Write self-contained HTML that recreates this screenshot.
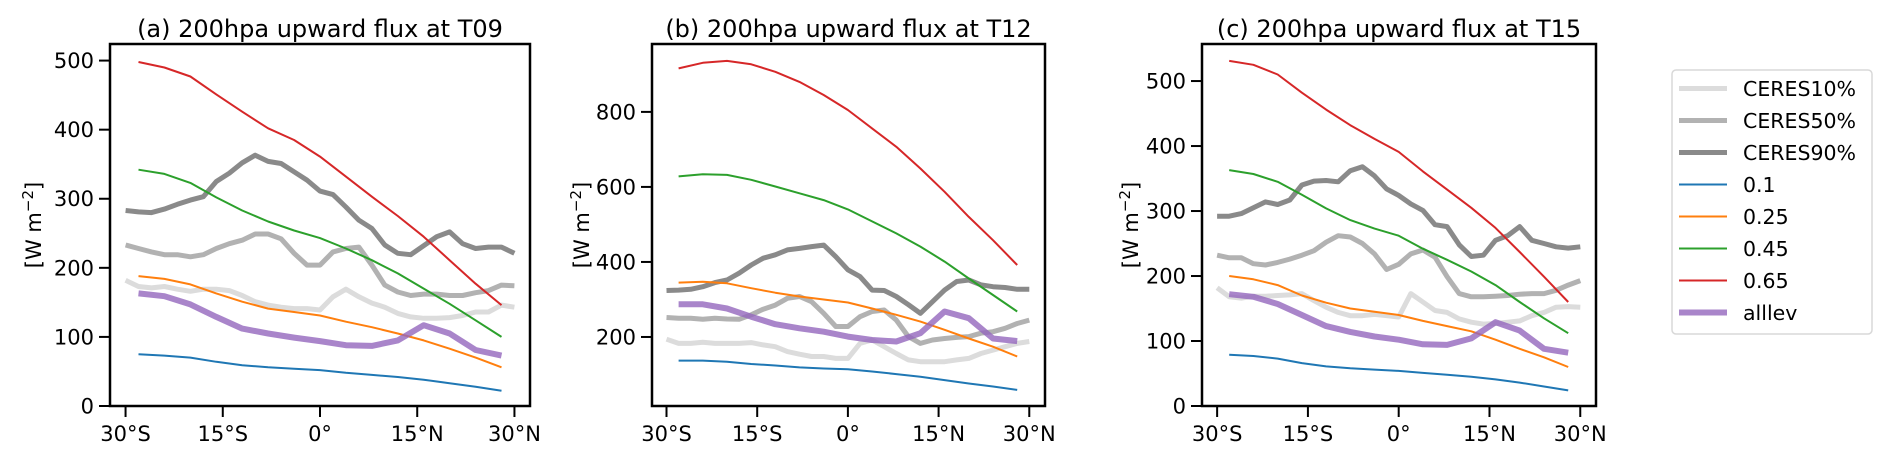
<!DOCTYPE html>
<html><head><meta charset="utf-8"><style>
html,body{margin:0;padding:0;background:#fff;}
svg{display:block;font-family:"DejaVu Sans","Liberation Sans",sans-serif;}
</style></head><body>
<svg id="fig" width="1892" height="459" viewBox="0 0 1892 459" xmlns="http://www.w3.org/2000/svg"></svg>
<script>
const latModel = [-28,-24,-20,-16,-12,-8,-4,0,4,8,12,16,20,24,28];
const latObs = [-30,-28,-26,-24,-22,-20,-18,-16,-14,-12,-10,-8,-6,-4,-2,0,2,4,6,8,10,12,14,16,18,20,22,24,26,28,30];
const xTickVals = [-30,-15,0,15,30];
const xTickLabels = ["30°S","15°S","0°","15°N","30°N"];
const panelTitles = ["(a) 200hpa upward flux at T09","(b) 200hpa upward flux at T12","(c) 200hpa upward flux at T15"];
const yTicksA = [0,100,200,300,400,500];
const yTicksB = [200,400,600,800];
const yTicksC = [0,100,200,300,400,500];
const legendLabels = ["CERES10%","CERES50%","CERES90%","0.1","0.25","0.45","0.65","alllev"];

// Panel a
const a_c10 = [182,173,171,173,169,166,169,169,167,160,151,146,143,141,141,139,158,169,158,149,143,134,129,127,127,128,131,136,136,146,143];
const a_c50 = [233,228,223,219,219,216,219,228,235,240,249,249,242,221,204,204,223,228,230,204,175,165,160,162,162,160,160,164,167,175,174];
const a_c90 = [283,281,280,285,292,298,303,325,337,352,363,354,351,339,327,311,306,288,269,257,233,221,219,232,245,252,235,228,230,230,221];
const a_01 = [75,73,70,64,59,56,54,52,48,45,42,38,33,28,22];
const a_025 = [188,184,176,163,151,141,136,131,122,114,105,95,83,70,56];
const a_045 = [342,336,323,302,283,267,254,243,228,211,192,170,148,124,100];
const a_065 = [498,490,477,451,426,402,385,361,332,303,275,245,211,177,146];
const a_all = [163,159,147,129,112,105,99,94,88,87,95,117,105,81,73];
// Panel b
const b_c10 = [194,183,183,186,183,183,183,185,179,174,161,154,148,148,143,143,183,192,174,156,139,134,134,134,139,143,156,165,174,183,188];
const b_c50 = [252,250,250,247,250,248,247,259,274,285,303,308,294,263,228,228,254,268,272,245,201,183,192,196,199,201,210,214,223,236,245];
const b_c90 = [324,325,327,334,345,352,370,392,410,419,432,436,441,445,414,379,361,325,324,308,286,263,294,325,348,352,339,334,332,327,327];
const b_01 = [137,137,134,128,124,119,116,114,108,101,94,85,76,68,59];
const b_025 = [345,347,343,330,318,308,300,292,276,259,241,219,196,174,148];
const b_045 = [628,634,632,619,601,583,565,540,508,476,441,401,356,312,268];
const b_065 = [916,931,936,927,907,880,845,805,756,707,649,587,520,458,392];
const b_all = [287,287,276,254,234,223,214,201,192,188,210,268,250,196,189];
// Panel c
const c_c10 = [182,168,166,169,169,170,171,173,162,152,144,139,139,141,139,137,173,160,147,144,134,129,126,127,129,131,139,144,152,153,152];
const c_c50 = [232,228,228,219,217,221,226,232,239,252,262,260,250,234,210,218,234,240,229,199,173,168,168,169,170,172,173,173,178,186,193];
const c_c90 = [292,292,296,305,314,310,317,340,346,347,345,362,368,354,334,324,311,301,279,276,248,230,232,255,262,276,255,250,245,243,245];
const c_01 = [79,77,73,66,61,58,56,54,51,48,45,41,36,30,24];
const c_025 = [200,195,186,170,159,150,145,140,131,123,115,102,88,75,60];
const c_045 = [363,357,345,325,304,286,273,262,242,225,207,186,160,135,112];
const c_065 = [531,525,510,482,456,432,411,391,361,333,305,274,237,199,160];
const c_all = [172,168,157,140,123,114,107,102,95,94,104,129,116,88,82];

const NS = "http://www.w3.org/2000/svg";
const svg = document.getElementById("fig");
function mk(tag, attrs, parent){const e=document.createElementNS(NS,tag);for(const k in attrs)e.setAttribute(k,attrs[k]);(parent||svg).appendChild(e);return e;}

const styles = [
  {c:"#dcdcdc",w:5,op:1},{c:"#b2b2b2",w:5,op:1},{c:"#8a8a8a",w:5,op:1},
  {c:"#1f77b4",w:2,op:1},{c:"#ff7f0e",w:2,op:1},{c:"#2ca02c",w:2,op:1},{c:"#d62728",w:2,op:1},
  {c:"#9467bd",w:6,op:0.8}
];
const seriesNames = ["ceres10","ceres50","ceres90","level-0.1","level-0.25","level-0.45","level-0.65","alllev"];

const panels = [
  {L:110,R:530,T:44,B:406,xmin:-32.4,xmax:32.4,ymin:0,ymax:524,ticks:yTicksA,ylx:33,data:[a_c10,a_c50,a_c90,a_01,a_025,a_045,a_065,a_all]},
  {L:652,R:1045,T:44,B:406,xmin:-32.4,xmax:32.6,ymin:16,ymax:981,ticks:yTicksB,ylx:581,data:[b_c10,b_c50,b_c90,b_01,b_025,b_045,b_065,b_all]},
  {L:1202,R:1596,T:44,B:406,xmin:-32.5,xmax:32.6,ymin:0,ymax:557,ticks:yTicksC,ylx:1130,data:[c_c10,c_c50,c_c90,c_01,c_025,c_045,c_065,c_all]}
];

panels.forEach((p,pi)=>{
  const g = mk("g",{});
  
  
  const xs = v => p.L + (v-p.xmin)/(p.xmax-p.xmin)*(p.R-p.L);
  const ys = v => p.B - (v-p.ymin)/(p.ymax-p.ymin)*(p.B-p.T);
  const clipId = "clip"+pi;
  const cp = mk("clipPath",{id:clipId},g);
  mk("rect",{x:p.L,y:p.T,width:p.R-p.L,height:p.B-p.T},cp);
  const lg = mk("g",{"clip-path":"url(#"+clipId+")"},g);
  p.data.forEach((arr,si)=>{
    const lats = arr.length===latObs.length ? latObs : latModel;
    const d = arr.map((v,i)=>(i?"L":"M")+xs(lats[i]).toFixed(1)+" "+ys(v).toFixed(1)).join(" ");
    const s = styles[si];
    const path = mk("path",{d:d,fill:"none",stroke:s.c,"stroke-width":s.w,"stroke-opacity":s.op,"stroke-linejoin":"round","stroke-linecap":"butt"},lg);
    
    
  });
  const frame = mk("rect",{x:p.L,y:p.T,width:p.R-p.L,height:p.B-p.T,fill:"none",stroke:"#000","stroke-width":2.5},g);
  
  
  p.ticks.forEach(v=>{
    const y = ys(v);
    mk("line",{x1:p.L-11,x2:p.L,y1:y,y2:y,stroke:"#000","stroke-width":2},g);
    const t = mk("text",{x:p.L-16,y:y+7.5,"text-anchor":"end","font-size":21,fill:"#000"},g);
    t.textContent = v;
    
    
  });
  xTickVals.forEach((v,i)=>{
    const x = xs(v);
    mk("line",{x1:x,x2:x,y1:p.B,y2:p.B+11,stroke:"#000","stroke-width":2},g);
    const t = mk("text",{x:x,y:p.B+35,"text-anchor":"middle","font-size":21,fill:"#000"},g);
    t.textContent = xTickLabels[i];
    
    
  });
  const tt = mk("text",{x:(p.L+p.R)/2,y:37,"text-anchor":"middle","font-size":24,fill:"#000"},g);
  tt.textContent = panelTitles[pi];
  
  
  const yl = mk("text",{x:0,y:0,"text-anchor":"middle","font-size":21,fill:"#000",transform:"translate("+(p.ylx+8)+","+((p.T+p.B)/2)+") rotate(-90)"},g);
  yl.textContent = "[W m";
  const sup = mk("tspan",{dy:-8,"font-size":15},yl);
  sup.textContent = "−2";
  const close = mk("tspan",{dy:8},yl);
  close.textContent = "]";
  
  
});

// Legend
const lgG = mk("g",{});


mk("rect",{x:1672,y:70,width:200,height:264,rx:4,fill:"#fff",stroke:"#d8d8d8","stroke-width":1.5},lgG);
legendLabels.forEach((lab,i)=>{
  const y = 88.5 + i*32;
  const s = styles[i];
  mk("line",{x1:1679,x2:1727,y1:y,y2:y,stroke:s.c,"stroke-width":s.w,"stroke-opacity":s.op},lgG);
  const t = mk("text",{x:1743,y:y+7.5,"font-size":20.5,fill:"#000"},lgG);
  t.textContent = lab;
  
  
});
</script>
</body></html>
